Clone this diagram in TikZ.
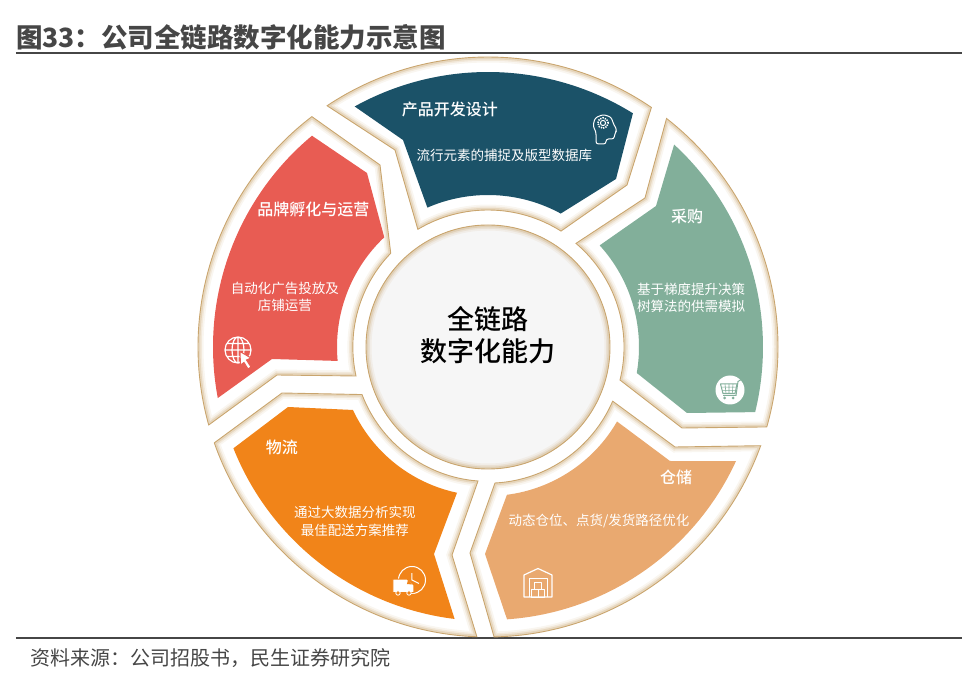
\documentclass[tikz,border=0pt]{standalone}
\usepackage{fontspec}
\usepackage{xcolor}
\usetikzlibrary{positioning,calc}
\setmainfont{Noto Sans CJK SC}
\newfontfamily\mediumfont{Noto Sans CJK SC Medium}
\definecolor{deepteal}{RGB}{27, 82, 104}
\definecolor{coralred}{RGB}{232, 92, 83}
\definecolor{sagegreen}{RGB}{130, 175, 154}
\definecolor{vividorange}{RGB}{241, 132, 25}
\definecolor{sandorange}{RGB}{233, 169, 112}
\definecolor{ringgold}{RGB}{201, 165, 110}
\definecolor{darkslate}{RGB}{70, 70, 70}
\definecolor{hubgray}{RGB}{246, 246, 246}
\tikzset{
    headlabel/.style={text=white,font=\mediumfont\fontsize{16}{16}\selectfont,inner sep=0pt},
    bodylabel/.style={text=white,font=\fontsize{13.5}{17.5}\selectfont,align=center,inner sep=0pt},
    iconline/.style={draw=white,line width=1pt,line join=round}
}
\newcommand{\ringedge}[1]{%
    \begin{scope}
        \clip #1;
        \foreach \w/\o in {11/.10,7.5/.16,4.5/.28}{\draw[ringgold,line width=\w,opacity=\o] #1;}
    \end{scope}
    \draw[ringgold,line width=.9] #1;
}
\begin{document}
\begin{tikzpicture}[x=1pt,y=1pt]
    \useasboundingbox (-488,-332) rectangle (489,347);

    % Title and rules
    \node[darkslate,font=\bfseries\fontsize{26.5}{26.5}\selectfont,anchor=west,inner sep=0pt] (title) at (-472,310) {图33：公司全链路数字化能力示意图};
    \draw[darkslate,line width=2.8pt] (-472,294) -- (474,294);
    \draw[darkslate,line width=2.4pt] (-472,-291) -- (474,-291);
    \node[darkslate,font=\fontsize{20}{20}\selectfont,anchor=west,inner sep=0pt] (source) at (-458,-311) {资料来源：公司招股书，民生证券研究院};

    % Outer outlines of the five segments
    \ringedge{(123.7:290) arc[start angle=123.7,end angle=55.7,radius=290] -- (139,162) -- (57.8:137) arc[start angle=57.8,end angle=120.8,radius=137] -- (-93,197) -- cycle}
    \ringedge{(127.4:290) arc[start angle=127.4,end angle=195.6,radius=290] -- (-211,-28) -- (-132,-29) arc[start angle=192.4,end angle=136,radius=135] -- (-108,182) -- cycle}
    \ringedge{(52:290) arc[start angle=52,end angle=-16,radius=290] -- (194,-81) -- (132,-33) arc[start angle=-14,end angle=49.7,radius=136] -- (157,149) -- cycle}
    \ringedge{(199.3:290) arc[start angle=199.3,end angle=267.8,radius=290] -- (-36,-208) -- (-10,-134) arc[start angle=265.7,end angle=200.9,radius=135] -- (-206,-46) -- cycle}
    \ringedge{(-19.9:290) arc[start angle=-19.9,end angle=-88.8,radius=290] -- (-18,-206) -- (7,-136) arc[start angle=-87,end angle=-23.4,radius=136] -- (187,-100) -- cycle}

    % Coloured segments
    \fill[deepteal] (119:275) arc[start angle=119,end angle=58.2,radius=275] -- (128,168) -- (61.4:152) arc[start angle=61.4,end angle=113.5,radius=152] -- (-85,207) -- cycle;
    \fill[coralred] (129.8:275) arc[start angle=129.8,end angle=190.7,radius=275] -- (-216,-12) -- (185.3:151) arc[start angle=185.3,end angle=133.4,radius=151] -- (-121,174) -- cycle;
    \fill[sagegreen] (47.4:275) arc[start angle=47.4,end angle=-13.7,radius=275] -- (199,-66) -- (-9.9:151) arc[start angle=-9.9,end angle=42.3,radius=151] -- (168,141) -- cycle;
    \fill[vividorange] (201.7:274) arc[start angle=201.7,end angle=263,radius=274] -- (-54,-207) -- (258:149) arc[start angle=258,end angle=205,radius=149] -- (-200,-60) -- cycle;
    \fill[sandorange] (-24.7:273) arc[start angle=-24.7,end angle=-86,radius=273] -- (-3,-207) -- (-82.7:149) arc[start angle=-82.7,end angle=-30,radius=149] -- (182,-114) -- cycle;

    % Hub
    \fill[hubgray] (0,0) circle[radius=122];
    \ringedge{(0,0) circle[radius=122]}
    \node[font=\mediumfont\fontsize{27}{32}\selectfont,align=center,inner sep=0pt] (hub) at (0,12) {全链路\\数字化能力};

    % Segment labels
    \node[headlabel] (designhead) at (-38,238) {产品开发设计};
    \node[bodylabel] (designbody) at (16.5,192) {流行元素的捕捉及版型数据库};
    \node[headlabel] (brandhead) at (-174.5,138) {品牌孵化与运营};
    \node[bodylabel] (brandbody) at (-203,50) {自动化广告投放及\\店铺运营};
    \node[headlabel] (buyhead) at (199,131) {采购};
    \node[bodylabel] (buybody) at (203,49) {基于梯度提升决策\\树算法的供需模拟};
    \node[headlabel] (shiphead) at (-206,-100.5) {物流};
    \node[bodylabel] (shipbody) at (-133,-174.5) {通过大数据分析实现\\最佳配送方案推荐};
    \node[headlabel] (storehead) at (188,-130) {仓储};
    \node[bodylabel] (storebody) at (111,-174) {动态仓位、点货/发货路径优化};

    % Head with gear
    \begin{scope}[shift={(115,224)}]
        \draw[iconline,rounded corners=2.5] (-7,-21) -- (-7,-9) -- (-10,-3) -- (-8,5) -- (0,8.5) -- (8,6) -- (11,-2) -- (14,-7) -- (12,-10) -- (11,-16) -- (3,-16) -- (3,-21) -- cycle;
        \draw[white,line width=1.6pt,dash pattern=on 1.3pt off 1.1pt] (0,0) circle[radius=5.2];
        \draw[iconline] (0,0) circle[radius=2.6];
    \end{scope}

    % Cart
    \begin{scope}[shift={(242,-43)}]
        \fill[white] (0,0) circle[radius=14.5];
        \draw[sagegreen,line width=1pt,line join=round] (-9.5,6) -- (7,6) -- (5,-3.5) -- (-7,-3.5) -- cycle;
        \draw[sagegreen,line width=.6pt] (-8.5,2.8) -- (6.4,2.8) (-8,-.4) -- (5.7,-.4) (-5,6) -- (-4,-3.5) (-1,6) -- (-1,-3.5) (3,6) -- (2.3,-3.5);
        \draw[sagegreen,line width=1pt] (-7,-5.5) -- (6,-5.5) -- (8,8.5) -- (12,11);
        \fill[sagegreen] (-5.5,-8) circle[radius=1.5] (3,-8) circle[radius=1.5];
    \end{scope}

    % Globe and pointer
    \begin{scope}[shift={(-250,-3)}]
        \draw[white,line width=1.2pt] (0,0) circle[radius=13] (0,0) ellipse[x radius=6,y radius=13] (0,13) -- (0,-13) (-13,0) -- (13,0) (-11,6.5) -- (11,6.5) (-11,-6.5) -- (11,-6.5);
        \fill[white,draw=coralred,line width=1pt] (2,-1.5) -- (13,-8) -- (8.5,-10) -- (13,-17) -- (10,-19) -- (6,-12.5) -- (2.5,-15) -- cycle;
    \end{scope}

    % Clock and truck
    \begin{scope}[shift={(-76,-233)}]
        \draw[white,line width=1pt] (0,0) circle[radius=13.5];
        \draw[white,line width=1pt] (0,7) -- (0,0) -- (7,-3.5);
        \fill[white,draw=vividorange,line width=1pt] (-19,1) -- (-5,1) -- (2,-5) -- (2,-12.5) -- (-19,-12.5) -- cycle;
        \fill[vividorange] (-4,0) -- (-5,-4) -- (.5,-4.5) -- cycle;
        \draw[white,fill=vividorange,line width=.8pt] (-14,-13) circle[radius=2.2] (-3,-13) circle[radius=2.2];
    \end{scope}

    % Warehouse
    \begin{scope}[shift={(50,-236)}]
        \draw[iconline,line width=1.2pt] (-14,-14) -- (-14,8) -- (0,14.5) -- (14,8) -- (14,-14) -- cycle;
        \draw[iconline] (-9,-14) -- (-9,5) -- (9,5) -- (9,-14);
        \draw[iconline] (-6.5,-14) rectangle (0,-6.5) (0,-14) rectangle (6.5,-6.5) (-3.2,-6.5) rectangle (3.2,0.5);
    \end{scope}
\end{tikzpicture}
\end{document}
